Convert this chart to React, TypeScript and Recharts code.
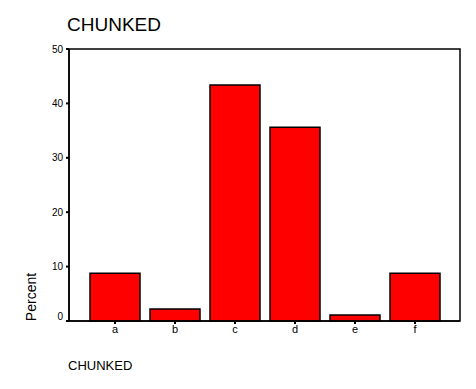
import { BarChart, Bar, XAxis, YAxis, usePlotArea } from 'recharts'

const CATEGORIES = ['a', 'b', 'c', 'd', 'e', 'f']
const PERCENT = [8.8, 2.2, 43.4, 35.6, 1.1, 8.8]
const Y_TICKS = [0, 10, 20, 30, 40, 50]

const data = CATEGORIES.map((c, i) => ({ name: c, percent: PERCENT[i] }))

const font = 'Arial, "Liberation Sans", sans-serif'

// Box around the plot area (top and right edges)
function Frame() {
  const area = usePlotArea()
  if (!area) return null
  return (
    <rect x={area.x} y={area.y} width={area.width} height={area.height} fill="none" stroke="#000" strokeWidth={1.5} />
  )
}

// the 0 label sits a bit above its tick in the original
function YTick(props: any) {
  const { x, y, payload } = props
  const dy = payload.value === 0 ? -5 : 0
  return (
    <text x={x} y={y + dy} dy="0.355em" textAnchor="end" fontSize={10} fontFamily={font} fill="#000">
      {payload.value}
    </text>
  )
}

export default function App() {
  return (
    <div style={{ position: 'absolute', left: 0, top: 0, width: 476, height: 389, background: '#fff', fontFamily: font }}>
      <div style={{ position: 'absolute', left: 67, top: 14, fontSize: 19, color: '#000' }}>CHUNKED</div>
      <div
        style={{
          position: 'absolute', left: 31, top: 297, fontSize: 14, color: '#000',
          transform: 'translate(-50%, -50%) rotate(-90deg)', whiteSpace: 'nowrap',
        }}
      >
        Percent
      </div>
      <div style={{ position: 'absolute', left: 68, top: 358, fontSize: 13, color: '#000' }}>CHUNKED</div>
      <BarChart
        width={476}
        height={389}
        data={data}
        margin={{ top: 49, right: 16, left: 0, bottom: 48 }}
        barSize={50}
      >
        <XAxis
          dataKey="name"
          padding={{ left: 16, right: 15 }}
          height={20}
          tick={{ fontSize: 11, fill: '#000', fontFamily: font }}
          tickSize={3}
          tickMargin={1}
          tickLine={{ stroke: '#000', strokeWidth: 2 }}
          axisLine={{ stroke: '#000', strokeWidth: 1.5 }}
        />
        <YAxis
          domain={[0, 50]}
          ticks={Y_TICKS}
          width={69}
          tick={<YTick />}
          tickSize={3}
          tickMargin={3}
          tickLine={{ stroke: '#000', strokeWidth: 2 }}
          axisLine={{ stroke: '#000', strokeWidth: 1.5 }}
        />
        <Bar dataKey="percent" fill="#ff0000" stroke="#000" strokeWidth={1.5} isAnimationActive={false} />
        <Frame />
      </BarChart>
    </div>
  )
}
